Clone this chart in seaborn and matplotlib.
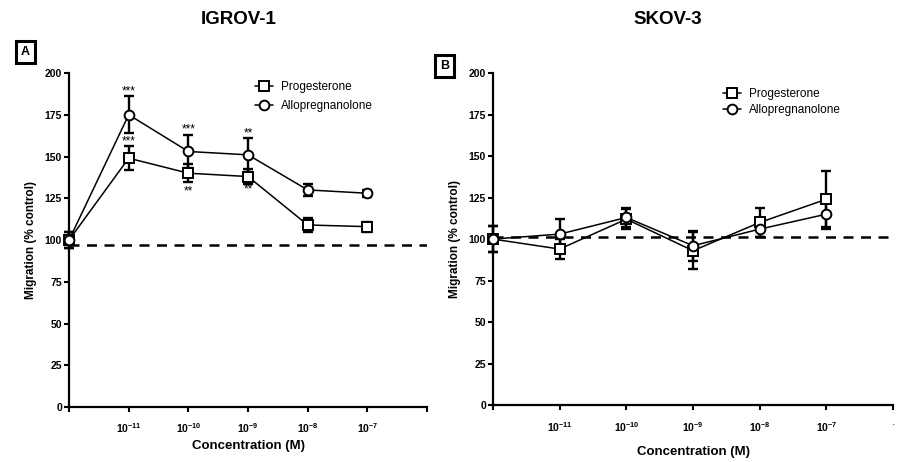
import pandas as pd
import matplotlib
matplotlib.use('Agg')
import matplotlib.pyplot as plt
import seaborn as sns

# Datos (posición 0 = control)
posiciones = [0, 1, 2, 3, 4, 5]
etiquetas_x = ['', r'$\mathbf{10^{-11}}$', r'$\mathbf{10^{-10}}$', r'$\mathbf{10^{-9}}$',
               r'$\mathbf{10^{-8}}$', r'$\mathbf{10^{-7}}$']

igrov_prog = [100, 149, 140, 138, 109, 108]
igrov_prog_err = [5, 7, 5.5, 4.5, 4, 3]
igrov_allo = [100, 175, 153, 151, 130, 128]
igrov_allo_err = [5, 11, 10, 10, 3.5, 2]

skov_prog = [100, 94, 112, 93, 110, 124]
skov_prog_err = [8, 6, 6, 11, 9, 17]
skov_allo = [100, 103, 113, 96, 106, 115]
skov_allo_err = [8, 9, 6, 9, 5, 9]

# (x, y, texto) de los asteriscos en IGROV-1
estrellas_igrov = [(1, 189, '***'), (1, 159, '***'), (2, 166, '***'), (2, 129, '**'),
                   (3, 164, '**'), (3, 130, '**')]

linea_control = {'IGROV-1': 97, 'SKOV-3': 101}

sns.set_theme(style='ticks')
plt.rcParams['font.family'] = ['Liberation Sans', 'DejaVu Sans']
plt.rcParams['mathtext.fontset'] = 'custom'
plt.rcParams['mathtext.rm'] = 'Liberation Sans'
plt.rcParams['mathtext.bf'] = 'Liberation Sans:bold'
for clave in ['text.color', 'axes.labelcolor', 'xtick.color', 'ytick.color', 'axes.edgecolor']:
    plt.rcParams[clave] = 'black'


def armar_df(prog, allo):
    return pd.DataFrame({
        'x': posiciones * 2,
        'y': prog + allo,
        'serie': ['Progesterone'] * len(prog) + ['Allopregnanolone'] * len(allo),
    })


def dibujar_panel(ax, nombre, prog, prog_err, allo, allo_err, legend_pos, xlab_y, ylab_x):
    df = armar_df(prog, allo)
    sns.lineplot(data=df, x='x', y='y', hue='serie', style='serie',
                 palette=['black', 'black'], markers=['s', 'o'], dashes=False,
                 markersize=7, markerfacecolor='white', markeredgecolor='black',
                 markeredgewidth=1.4, linewidth=1.1, ax=ax, zorder=3, clip_on=False)
    for vals, errs in [(prog, prog_err), (allo, allo_err)]:
        eb = ax.errorbar(posiciones, vals, yerr=errs, fmt='none', ecolor='black',
                         elinewidth=1.7, capsize=3.5, capthick=1.7, zorder=2)
        for art in eb.get_children():
            art.set_clip_on(False)
    ax.axhline(linea_control[nombre], color='black', linestyle=(0, (4, 3)), linewidth=1.8, zorder=1)

    ax.set_xlim(0, 6)
    ax.set_ylim(0, 200)
    ax.set_yticks(range(0, 201, 25))
    ax.set_xticks(range(0, 7))
    ax.set_xticklabels(etiquetas_x + (['·'] if nombre == 'SKOV-3' else ['']))
    for lab in ax.get_yticklabels():
        lab.set_fontweight('bold')
    ax.tick_params(axis='both', labelsize=7.5, width=1.5, length=3.5, direction='out', pad=1.5)
    ax.tick_params(axis='x', pad=7)
    for s in ['left', 'bottom']:
        ax.spines[s].set_linewidth(1.6)
    sns.despine(ax=ax)
    ax.set_xlabel('Concentration (M)', fontsize=9.5, fontweight='bold')
    ax.xaxis.set_label_coords(0.5, xlab_y)
    ax.set_ylabel('Migration (% control)', fontsize=8.5, fontweight='bold')
    ax.yaxis.set_label_coords(ylab_x, 0.5)

    ax.legend(title=None, frameon=False, fontsize=8.5, loc='upper left',
              bbox_to_anchor=legend_pos, handlelength=1.5, handletextpad=0.7,
              labelspacing=0.55 if nombre == 'IGROV-1' else 0.35, borderaxespad=0,
              borderpad=0)


fig = plt.figure(figsize=(8.97, 4.62), dpi=100)
ax_a = fig.add_axes([0.077, 0.119, 0.399, 0.723])
ax_b = fig.add_axes([0.5496, 0.123, 0.446, 0.719])

dibujar_panel(ax_a, 'IGROV-1', igrov_prog, igrov_prog_err, igrov_allo, igrov_allo_err,
              (0.52, 0.975), -0.10, -0.09)
dibujar_panel(ax_b, 'SKOV-3', skov_prog, skov_prog_err, skov_allo, skov_allo_err,
              (0.575, 0.955), -0.123, -0.08)

for x, y, t in estrellas_igrov:
    ax_a.text(x, y, t, ha='center', va='center', fontsize=8.5)

fig.text(0.266, 0.958, 'IGROV-1', ha='center', va='center', fontsize=13.5, fontweight='bold')
fig.text(0.745, 0.958, 'SKOV-3', ha='center', va='center', fontsize=13.5, fontweight='bold')

# Etiquetas de panel con recuadro
for x, y, letra in [(0.028, 0.887, 'A'), (0.496, 0.857, 'B')]:
    fig.text(x, y, letra, ha='center', va='center', fontsize=9, fontweight='bold',
             bbox=dict(boxstyle='square,pad=0.4', facecolor='white', edgecolor='black', linewidth=2.2))

fig.savefig('out.png', dpi=100)
